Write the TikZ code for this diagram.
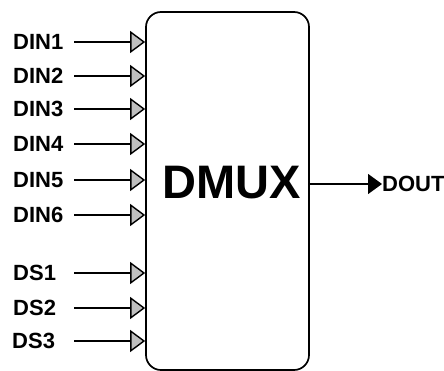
\documentclass[tikz,border=0pt]{standalone}
\usepackage{fontspec}
\setmainfont{Liberation Sans}
\usetikzlibrary{arrows.meta,positioning}

\begin{document}
\begin{tikzpicture}[x=1pt, y=-1pt,
  pin/.style={anchor=west, inner sep=0pt, font=\fontsize{22}{24}\selectfont\bfseries},
  inarr/.style={-{Triangle[length=15pt, width=22pt, fill=gray!50]}, line width=1.4pt},
  outarr/.style={-{Triangle[length=14pt, width=20pt]}, line width=1.4pt},
  block/.style={draw, line width=1.7pt, rounded corners=15pt, minimum width=163pt, minimum height=358pt}
]
  \useasboundingbox (0,0) rectangle (444,370);

  \node[block] (mux) at (227.5,191) {};
  \node[inner sep=0pt, font=\fontsize{47}{50}\selectfont\bfseries] (dmux) at (232,183) {DMUX};

  \node[pin] (din1) at (13,42) {DIN1};
  \node[pin] (din2) at (13,76) {DIN2};
  \node[pin] (din3) at (13,109) {DIN3};
  \node[pin] (din4) at (13,144) {DIN4};
  \node[pin] (din5) at (13,180) {DIN5};
  \node[pin] (din6) at (13,215) {DIN6};
  \node[pin] (ds1) at (13,273) {DS1};
  \node[pin] (ds2) at (13,308) {DS2};
  \node[pin] (ds3) at (12,341) {DS3};
  \node[pin] (dout) at (382,184) {DOUT};

  \coordinate (start) at (74,0);

  \draw[inarr] (din1 -| start) -- (din1 -| mux.west);
  \draw[inarr] (din2 -| start) -- (din2 -| mux.west);
  \draw[inarr] (din3 -| start) -- (din3 -| mux.west);
  \draw[inarr] (din4 -| start) -- (din4 -| mux.west);
  \draw[inarr] (din5 -| start) -- (din5 -| mux.west);
  \draw[inarr] (din6 -| start) -- (din6 -| mux.west);
  \draw[inarr] (ds1 -| start) -- (ds1 -| mux.west);
  \draw[inarr] (ds2 -| start) -- (ds2 -| mux.west);
  \draw[inarr] (ds3 -| start) -- (ds3 -| mux.west);
  \draw[outarr] (dout -| mux.east) -- (dout.west);
\end{tikzpicture}
\end{document}
